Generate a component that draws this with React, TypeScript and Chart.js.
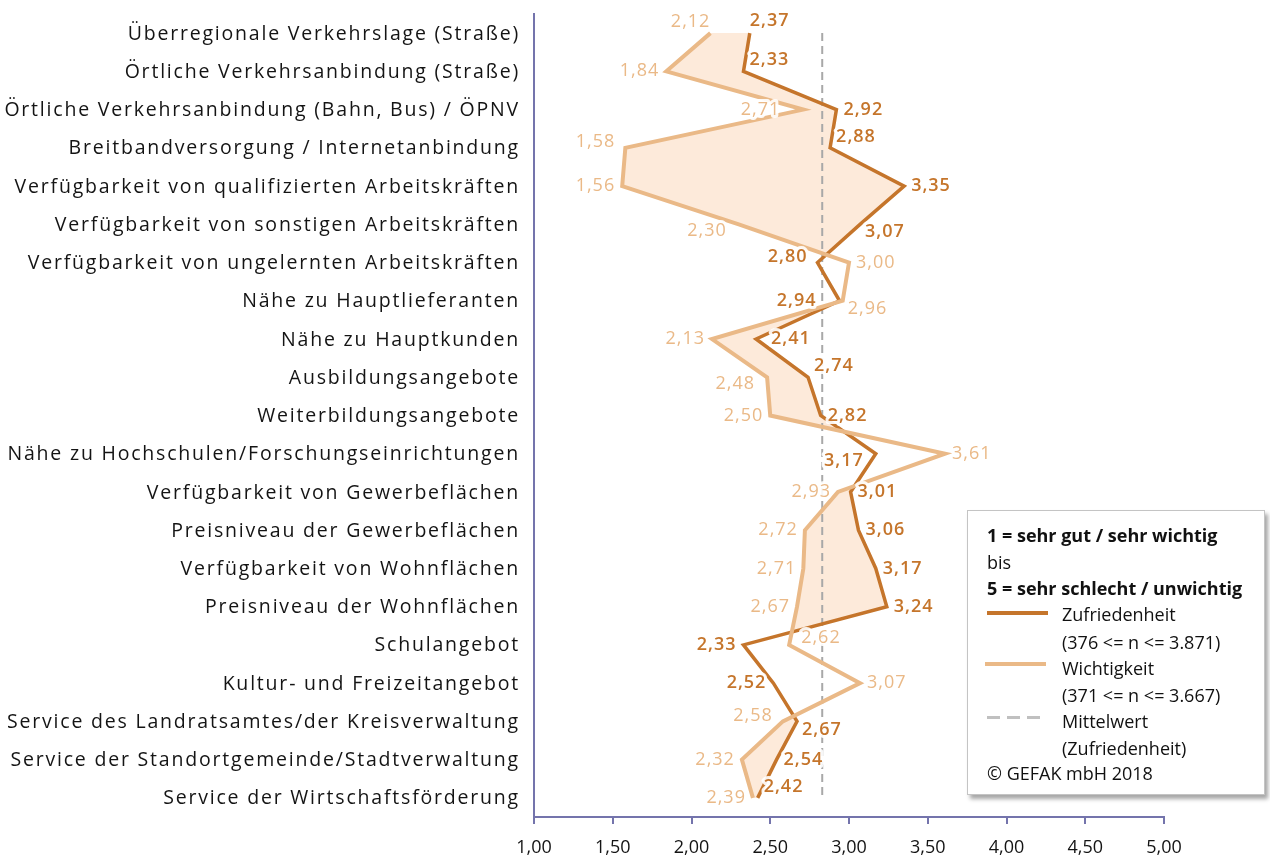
import React, { useEffect, useRef } from "react";
import { Chart, registerables } from "chart.js";

Chart.register(...registerables);

const CATEGORIES = [
  "Überregionale Verkehrslage (Straße)",
  "Örtliche Verkehrsanbindung (Straße)",
  "Örtliche Verkehrsanbindung (Bahn, Bus) / ÖPNV",
  "Breitbandversorgung / Internetanbindung",
  "Verfügbarkeit von qualifizierten Arbeitskräften",
  "Verfügbarkeit von sonstigen Arbeitskräften",
  "Verfügbarkeit von ungelernten Arbeitskräften",
  "Nähe zu Hauptlieferanten",
  "Nähe zu Hauptkunden",
  "Ausbildungsangebote",
  "Weiterbildungsangebote",
  "Nähe zu Hochschulen/Forschungseinrichtungen",
  "Verfügbarkeit von Gewerbeflächen",
  "Preisniveau der Gewerbeflächen",
  "Verfügbarkeit von Wohnflächen",
  "Preisniveau der Wohnflächen",
  "Schulangebot",
  "Kultur- und Freizeitangebot",
  "Service des Landratsamtes/der Kreisverwaltung",
  "Service der Standortgemeinde/Stadtverwaltung",
  "Service der Wirtschaftsförderung",
];

const ZUFRIEDENHEIT = [
  2.37, 2.33, 2.92, 2.88, 3.35, 3.07, 2.8, 2.94, 2.41, 2.74, 2.82, 3.17, 3.01,
  3.06, 3.17, 3.24, 2.33, 2.52, 2.67, 2.54, 2.42,
];

const WICHTIGKEIT = [
  2.12, 1.84, 2.71, 1.58, 1.56, 2.3, 3.0, 2.96, 2.13, 2.48, 2.5, 3.61, 2.93,
  2.72, 2.71, 2.67, 2.62, 3.07, 2.58, 2.32, 2.39,
];

const MITTELWERT = 2.83;

const X_MIN = 1;
const X_MAX = 5;
const X_STEP = 0.5;

// label placement codes (where each value label sits relative to its point)
const Z_LABEL_POS = [
  "tr", "ru", "r", "ru", "r", "rd", "lu", "ll", "rr", "ru", "r", "ld", "r", "r",
  "r", "r", "l", "l", "rd", "r", "ru",
];
const W_LABEL_POS = [
  "tl", "l", "ll", "lu", "l", "ld", "r", "rd", "l", "ld", "l", "r", "l", "l",
  "l", "l", "rru", "r", "lu", "l", "l",
];

const FONT = "'Open Sans', sans-serif";
const AXIS_COLOR = "#7474ac";
const Z_COLOR = "#c5752b";
const W_COLOR = "#eab987";
const FILL_COLOR = "#fdeada";
const MEAN_COLOR = "#a8a8a8";
const TEXT_COLOR = "#141414";

const fmt = (v: number) => v.toFixed(2).replace(".", ",");

const gapFillPlugin = {
  id: "gapFill",
  beforeDatasetsDraw(chart: any) {
    const zMeta = chart.getDatasetMeta(0);
    const wMeta = chart.getDatasetMeta(1);
    const ctx = chart.ctx;
    ctx.save();
    ctx.fillStyle = FILL_COLOR;
    ctx.beginPath();
    for (let i = 0; i < ZUFRIEDENHEIT.length - 1; i++) {
      const za = zMeta.data[i];
      const zb = zMeta.data[i + 1];
      const wa = wMeta.data[i];
      const wb = wMeta.data[i + 1];
      const d0 = ZUFRIEDENHEIT[i] - WICHTIGKEIT[i];
      const d1 = ZUFRIEDENHEIT[i + 1] - WICHTIGKEIT[i + 1];
      if (d0 >= 0 && d1 >= 0) {
        ctx.moveTo(za.x, za.y);
        ctx.lineTo(zb.x, zb.y);
        ctx.lineTo(wb.x, wb.y);
        ctx.lineTo(wa.x, wa.y);
        ctx.closePath();
      } else if (d0 > 0 && d1 < 0) {
        const t = d0 / (d0 - d1);
        const xc = za.x + t * (zb.x - za.x);
        const yc = za.y + t * (zb.y - za.y);
        ctx.moveTo(za.x, za.y);
        ctx.lineTo(xc, yc);
        ctx.lineTo(wa.x, wa.y);
        ctx.closePath();
      } else if (d0 < 0 && d1 > 0) {
        const t = d0 / (d0 - d1);
        const xc = za.x + t * (zb.x - za.x);
        const yc = za.y + t * (zb.y - za.y);
        ctx.moveTo(xc, yc);
        ctx.lineTo(zb.x, zb.y);
        ctx.lineTo(wb.x, wb.y);
        ctx.closePath();
      }
    }
    ctx.fill();
    ctx.restore();
  },
};

const OFFSETS: Record<string, [CanvasTextAlign, number, number]> = {
  r: ["left", 7, 0],
  rr: ["left", 15, 0],
  l: ["right", -7, 0],
  ll: ["right", -23, 0],
  ru: ["left", 6, -11],
  rru: ["left", 12, -7],
  rd: ["left", 5, 8],
  lu: ["right", -10, -6],
  ld: ["right", -12, 7],
  tr: ["left", 0, -12],
  tl: ["right", 0, -11],
};

const valueLabelPlugin = {
  id: "valueLabels",
  afterDatasetsDraw(chart: any) {
    const ctx = chart.ctx;
    const sets: [number, number[], string[], string, string][] = [
      [1, WICHTIGKEIT, W_LABEL_POS, W_COLOR, "400"],
      [0, ZUFRIEDENHEIT, Z_LABEL_POS, Z_COLOR, "600"],
    ];
    ctx.save();
    ctx.textBaseline = "middle";
    (ctx as any).letterSpacing = "1px";
    for (const [idx, values, pos, color, weight] of sets) {
      const meta = chart.getDatasetMeta(idx);
      ctx.font = `${weight} 18px ${FONT}`;
      values.forEach((v, i) => {
        const p = meta.data[i];
        const [align, dx, dy] = OFFSETS[pos[i]];
        const x = p.x + dx;
        const y = p.y + dy;
        ctx.textAlign = align;
        ctx.lineJoin = "round";
        ctx.strokeStyle = "rgba(255,255,255,0.9)";
        ctx.lineWidth = 6;
        ctx.strokeText(fmt(v), x, y);
        ctx.fillStyle = color;
        ctx.fillText(fmt(v), x, y);
      });
    }
    ctx.restore();
  },
};

const categoryLabelPlugin = {
  id: "categoryLabels",
  afterDraw(chart: any) {
    const ys = chart.scales.y;
    const ctx = chart.ctx;
    ctx.save();
    ctx.font = `400 19.5px ${FONT}`;
    (ctx as any).letterSpacing = "1.8px";
    ctx.fillStyle = TEXT_COLOR;
    ctx.textAlign = "right";
    ctx.textBaseline = "middle";
    CATEGORIES.forEach((c, i) => {
      ctx.fillText(c, ys.right - 14, ys.getPixelForValue(i) + 1);
    });
    ctx.restore();
  },
};

function Legend() {
  const base: React.CSSProperties = {
    position: "absolute",
    fontFamily: FONT,
    fontSize: 18,
    lineHeight: "24px",
    color: "#111",
    whiteSpace: "nowrap",
  };
  const row = (top: number, left: number, text: string, bold = false) => (
    <div style={{ ...base, top: top - 12, left, fontWeight: bold ? 700 : 400 }}>
      {text}
    </div>
  );
  return (
    <div
      style={{
        position: "absolute",
        left: 967,
        top: 510,
        width: 296,
        height: 283,
        background: "#fff",
        border: "1.5px solid #c4c4c4",
        boxShadow: "3px 4px 4px rgba(0,0,0,0.35)",
      }}
    >
      {row(24, 19, "1 = sehr gut / sehr wichtig", true)}
      {row(51, 19, "bis")}
      {row(77, 19, "5 = sehr schlecht / unwichtig", true)}
      <div style={{ position: "absolute", left: 19, top: 100, width: 61, height: 4, background: Z_COLOR }} />
      {row(103, 94, "Zufriedenheit")}
      {row(131, 94, "(376 <= n <= 3.871)")}
      <div style={{ position: "absolute", left: 17, top: 151, width: 61, height: 4, background: W_COLOR }} />
      {row(157, 94, "Wichtigkeit")}
      {row(184, 94, "(371 <= n <= 3.667)")}
      <div
        style={{
          position: "absolute",
          left: 19,
          top: 205,
          width: 60,
          height: 3,
          background: `repeating-linear-gradient(to right, #c0c0c0 0 13px, transparent 13px 20px)`,
        }}
      />
      {row(210, 94, "Mittelwert")}
      {row(237, 94, "(Zufriedenheit)")}
      {row(262, 19, "© GEFAK mbH 2018")}
    </div>
  );
}

export default function App() {
  const canvasRef = useRef<HTMLCanvasElement | null>(null);

  useEffect(() => {
    if (!canvasRef.current) return;
    Chart.defaults.font.family = FONT;
    const chart = new Chart(canvasRef.current, {
      type: "line",
      data: {
        labels: CATEGORIES,
        datasets: [
          {
            label: "Zufriedenheit",
            data: ZUFRIEDENHEIT,
            borderColor: Z_COLOR,
            borderWidth: 3.5,
            pointRadius: 0,
            fill: false,
            tension: 0,
            order: 1,
          },
          {
            label: "Wichtigkeit",
            data: WICHTIGKEIT,
            borderColor: W_COLOR,
            borderWidth: 4,
            pointRadius: 0,
            fill: false,
            tension: 0,
            order: 0,
          },
          {
            label: "Mittelwert (Zufriedenheit)",
            data: CATEGORIES.map(() => MITTELWERT),
            borderColor: MEAN_COLOR,
            borderWidth: 2,
            borderDash: [8, 5],
            pointRadius: 0,
            fill: false,
            order: 2,
          },
        ],
      },
      options: {
        indexAxis: "y",
        responsive: false,
        animation: false,
        layout: { padding: { left: 0, right: 106, top: 14, bottom: 0 } },
        plugins: {
          legend: { display: false },
          tooltip: { enabled: false },
        },
        scales: {
          y: {
            type: "category",
            offset: true,
            grid: { display: false },
            border: { display: true, color: AXIS_COLOR, width: 2 },
            ticks: { display: false },
            afterFit: (s: any) => {
              s.width = 534;
            },
          },
          x: {
            type: "linear",
            min: X_MIN,
            max: X_MAX,
            ticks: {
              stepSize: X_STEP,
              callback: (v: any) => fmt(Number(v)),
              font: { family: FONT, size: 18 },
              color: TEXT_COLOR,
              padding: 13,
              maxRotation: 0,
            },
            grid: {
              drawOnChartArea: false,
              drawTicks: true,
              tickLength: 7,
              color: AXIS_COLOR,
              lineWidth: 2,
            },
            border: { display: true, color: AXIS_COLOR, width: 2 },
            afterFit: (s: any) => {
              s.height = 41;
            },
          },
        },
      },
      plugins: [gapFillPlugin, valueLabelPlugin, categoryLabelPlugin],
    } as any);
    return () => chart.destroy();
  }, []);

  return (
    <div
      style={{
        position: "absolute",
        left: 0,
        top: 0,
        width: 1270,
        height: 858,
        background: "#fff",
        overflow: "hidden",
      }}
    >
      <canvas
        ref={canvasRef}
        width={1270}
        height={858}
        style={{ width: 1270, height: 858, display: "block" }}
      />
      <Legend />
    </div>
  );
}
